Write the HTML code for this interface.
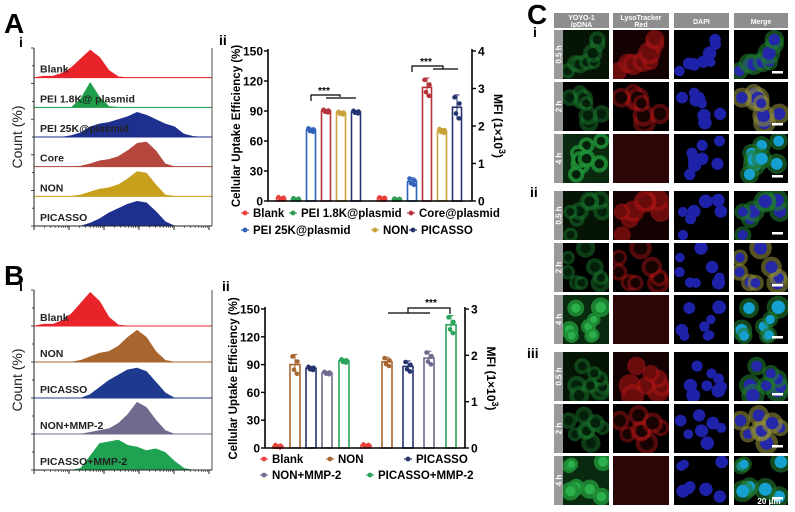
<!DOCTYPE html>
<html><head><meta charset="utf-8"><style>
html,body{margin:0;padding:0;background:#fff;}
svg{display:block;font-family:"Liberation Sans",Arial,sans-serif;}
</style></head><body>
<svg id="fig" width="795" height="512" viewBox="0 0 795 512">
<g font-weight="bold" fill="#000">
<text x="4" y="33" font-size="28">A</text>
<text x="4" y="285" font-size="28">B</text>
<text x="527" y="24" font-size="28">C</text>
<text x="19" y="47" font-size="14">i</text>
<text x="19" y="291" font-size="14">i</text>
<text x="219" y="45" font-size="14">ii</text>
<text x="222" y="291" font-size="14">ii</text>
</g>
<g id="hist"></g>
<g id="bars"></g>
<g id="micro"></g>
</svg>
<script>
const NS="http://www.w3.org/2000/svg";
function mk(tag,attrs,parent){const e=document.createElementNS(NS,tag);for(const k in attrs)e.setAttribute(k,attrs[k]);if(parent)parent.appendChild(e);return e;}

// ---------- Histogram data (fraction of row height per bin, 20 bins) ----------
const histA_names=["Blank","PEI 1.8K@ plasmid","PEI 25K@plasmid","Core","NON","PICASSO"];
const histA_colors=["#e8232a","#1f9e4a","#1e2f8e","#b5473f","#c9a01c","#1e2f8e"];
const histA_blank=[0,0.05,0.05,0.15,0.35,0.65,0.95,0.7,0.25,0.03,0,0,0,0,0,0,0,0,0,0];
const histA_pei18=[0,0,0,0,0,0.3,0.85,0.35,0.03,0,0,0,0,0,0,0,0,0,0,0];
const histA_pei25=[0,0,0,0,0.05,0.15,0.35,0.45,0.5,0.6,0.7,0.85,0.75,0.6,0.45,0.35,0.1,0.02,0,0];
const histA_core=[0,0,0,0,0,0.02,0.1,0.2,0.25,0.35,0.55,0.8,0.85,0.55,0.1,0,0,0,0,0];
const histA_non=[0,0,0,0,0,0.05,0.15,0.25,0.3,0.4,0.6,0.85,0.8,0.4,0.05,0,0,0,0,0];
const histA_pic=[0,0,0,0,0,0,0.1,0.25,0.45,0.6,0.75,0.85,0.8,0.5,0.15,0,0,0,0,0];
const histB_names=["Blank","NON","PICASSO","NON+MMP-2","PICASSO+MMP-2"];
const histB_colors=["#e8232a","#a8652e","#1e3a8e","#6f6a8e","#1fa352"];
const histB_blank=[0,0.05,0.05,0.15,0.35,0.65,0.95,0.7,0.25,0.03,0,0,0,0,0,0,0,0,0,0];
const histB_non=[0,0,0,0,0,0.05,0.15,0.25,0.3,0.45,0.7,0.9,0.7,0.3,0.05,0,0,0,0,0];
const histB_pic=[0,0,0,0,0,0,0.1,0.3,0.5,0.65,0.8,0.85,0.75,0.45,0.15,0,0,0,0,0];
const histB_nonmmp=[0,0,0,0,0,0,0.05,0.1,0.15,0.3,0.55,0.9,0.75,0.4,0.1,0,0,0,0,0];
const histB_picmmp=[0,0,0,0,0,0.05,0.4,0.75,0.8,0.85,0.7,0.65,0.55,0.6,0.5,0.25,0.05,0,0,0];

function drawHist(g,x0,x1,top,bottom,series,names,colors,tag){
  const n=series.length, rh=(bottom-top)/n, bw=(x1-x0)/19;
  const grp=mk("g",{},g);
  
  
  series.forEach((s,i)=>{
    const base=top+rh*(i+1);
    let pts=x0+","+base+" ";
    s.forEach((v,j)=>{pts+=(x0+j*bw)+","+(base-v*rh*0.98)+" ";});
    pts+=x1+","+base;
    const p=mk("polygon",{points:pts,fill:colors[i],stroke:colors[i],"stroke-width":0.6},grp);
    
    
    mk("line",{x1:x0,x2:x1,y1:base,y2:base,stroke:colors[i],"stroke-width":1},grp);
    const t=mk("text",{x:x0+6,y:base-5,"font-size":10.5,"font-weight":"bold",fill:"#222"},grp);
    t.textContent=names[i];
    
    
  });
  mk("line",{x1:x0,x2:x0,y1:top,y2:bottom,stroke:"#222","stroke-width":1},grp);
  mk("line",{x1:x0,x2:x1,y1:bottom,y2:bottom,stroke:"#222","stroke-width":1},grp);
  mk("line",{x1:x1,x2:x1,y1:top,y2:bottom,stroke:"#222","stroke-width":0.8},grp);
  for(let k=0;k<=10;k++){const y=top+(bottom-top)*k/10;mk("line",{x1:x0-(k%2?2:3),x2:x0,y1:y,y2:y,stroke:"#222","stroke-width":0.8},grp);}
  for(let d=0;d<=5;d++){const x=x0+d*35; if(x>x1+1)break; mk("line",{x1:x,x2:x,y1:bottom,y2:bottom+4,stroke:"#222","stroke-width":1},grp);
    for(let m=2;m<10;m++){const xm=x+35*Math.log10(m); if(xm<x1) mk("line",{x1:xm,x2:xm,y1:bottom,y2:bottom+2,stroke:"#222","stroke-width":0.6},grp);}}
  const c=mk("text",{x:0,y:0,"font-size":14,fill:"#222",transform:`translate(${x0-12},${(top+bottom)/2}) rotate(-90)`,"text-anchor":"middle"},grp);
  c.textContent="Count  (%)";
  
  
}
const H=document.getElementById("hist");
drawHist(H,34,212,48,226,[histA_blank,histA_pei18,histA_pei25,histA_core,histA_non,histA_pic],histA_names,histA_colors,"a");
drawHist(H,34,212,290,470,[histB_blank,histB_non,histB_pic,histB_nonmmp,histB_picmmp],histB_names,histB_colors,"b");

// ---------- Bar chart data ----------
const barA_groups=["Blank","PEI 1.8K@plasmid","PEI 25K@plasmid","Core@plasmid","NON","PICASSO"];
const barA_colors=["#e8413a","#2e9e52","#2f62b8","#b5323a","#c9a23a","#25336e"];
const barA_uptake=[3,2,71,90,88,89];
const barA_uptake_sd=[1,1,2,1.5,1.5,1.5];
const barA_mfi=[0.08,0.05,0.52,3.03,1.87,2.5];
const barA_mfi_sd=[0.02,0.02,0.1,0.25,0.06,0.33];
const barA_leftTicks=[0,30,60,90,120,150];
const barA_rightTicks=[0,1,2,3,4];

const barB_groups=["Blank","NON","PICASSO","NON+MMP-2","PICASSO+MMP-2"];
const barB_colors=["#e8413a","#a8652e","#25336e","#6f6a8e","#2aa35a"];
const barB_uptake=[2,90,86,81,94];
const barB_uptake_sd=[1.5,11,2,1.5,2];
const barB_mfi=[0.06,1.86,1.76,1.94,2.66];
const barB_mfi_sd=[0.02,0.1,0.12,0.15,0.2];
const barB_leftTicks=[0,30,60,90,120,150];
const barB_rightTicks=[0,1,2,3];

function drawBars(g,cfg){
  const {x0,x1,y0,y1,lmax,rmax,g1x,g2x,bw,up,upsd,mfi,mfisd,colors,names,ltick,rtick,tag}=cfg;
  const grp=mk("g",{},g);
  
  
  const yl=v=>y0-(v/lmax)*(y0-y1), yr=v=>y0-(v/rmax)*(y0-y1);
  function bar(cx,v,sd,ys,col,nm,grpName){
    const b=mk("rect",{x:cx-bw/2,y:ys(v),width:bw,height:y0-ys(v),fill:"#fff",stroke:col,"stroke-width":1.6},grp);
    
    
    mk("line",{x1:cx,x2:cx,y1:ys(v+sd),y2:ys(v-sd),stroke:col,"stroke-width":1},grp);
    mk("line",{x1:cx-2.5,x2:cx+2.5,y1:ys(v+sd),y2:ys(v+sd),stroke:col,"stroke-width":1},grp);
    [[-2.5,0.8],[2.5,0.3],[-1,-0.5],[2,-0.9]].forEach(o=>{
      mk("circle",{cx:cx+o[0],cy:ys(v+o[1]*sd),r:2.3,fill:col},grp);});
  }
  up.forEach((v,i)=>bar(g1x[i],v,upsd[i],yl,colors[i],names[i],"uptake"));
  mfi.forEach((v,i)=>bar(g2x[i],v,mfisd[i],yr,colors[i],names[i],"mfi"));
  mk("line",{x1:x0,x2:x0,y1:y0,y2:y1-2,stroke:"#000","stroke-width":1.6},grp);
  mk("line",{x1:x1,x2:x1,y1:y0,y2:y1-2,stroke:"#000","stroke-width":1.6},grp);
  mk("line",{x1:x0,x2:x1,y1:y0,y2:y0,stroke:"#000","stroke-width":1.6},grp);
  ltick.forEach(t=>{const y=yl(t);mk("line",{x1:x0-4,x2:x0,y1:y,y2:y,stroke:"#000","stroke-width":1.4},grp);
    const tx=mk("text",{x:x0-5,y:y+4.5,"font-size":12,"font-weight":"bold","text-anchor":"end"},grp);tx.textContent=t;
    });
  rtick.forEach(t=>{const y=yr(t);mk("line",{x1:x1,x2:x1+4,y1:y,y2:y,stroke:"#000","stroke-width":1.4},grp);
    const tx=mk("text",{x:x1+6,y:y+4.5,"font-size":12,"font-weight":"bold"},grp);tx.textContent=t;
    });
  const lt=mk("text",{"font-size":11.5,"font-weight":"bold","text-anchor":"middle",transform:`translate(${x0-28},${(y0+y1)/2}) rotate(-90)`},grp);
  lt.textContent="Cellular Uptake Efficiency (%)";
  
  const rt=mk("text",{"font-size":12,"font-weight":"bold","text-anchor":"middle",transform:`translate(${x1+22},${(y0+y1)/2}) rotate(90)`},grp);
  rt.innerHTML='MFI (1×10<tspan font-size="9" dy="-5">3</tspan><tspan dy="5">)</tspan>';
  
  return grp;
}
const B=document.getElementById("bars");
const gA=drawBars(B,{x0:268,x1:472,y0:201,y1:51,lmax:150,rmax:4,g1x:[281,296,311,326,341,356],g2x:[382,397,412,427,442,457],bw:9,
 up:barA_uptake,upsd:barA_uptake_sd,mfi:barA_mfi,mfisd:barA_mfi_sd,colors:barA_colors,names:barA_groups,ltick:barA_leftTicks,rtick:barA_rightTicks,tag:"a"});
const gB=drawBars(B,{x0:265,x1:465,y0:448,y1:309,lmax:150,rmax:3,g1x:[278,295,311,327,344],g2x:[366,387,408,429,451],bw:10,
 up:barB_uptake,upsd:barB_uptake_sd,mfi:barB_mfi,mfisd:barB_mfi_sd,colors:barB_colors,names:barB_groups,ltick:barB_leftTicks,rtick:barB_rightTicks,tag:"b"});

function pl(g,pts){mk("polyline",{points:pts,fill:"none",stroke:"#000","stroke-width":1.2},g);}
function stars(g,x,y){const t=mk("text",{x:x,y:y,"font-size":10,"font-weight":"bold","text-anchor":"middle"},g);t.textContent="***";
 }
pl(gA,"311,101 311,95 340,95 340,97");pl(gA,"326,98 356,98");stars(gA,324,94);
pl(gA,"412,72 412,66 443,66 443,69");pl(gA,"433,69 458,69");stars(gA,426,65);
pl(gB,"388,313 430,313");pl(gB,"408,313 408,308 450,308 450,314");stars(gB,431,306);

function legend(g,items,colors,tag){
  items.forEach((it,i)=>{
    const lg=mk("g",{},g);
    
    
    mk("line",{x1:it[1]-4,x2:it[1]+4,y1:it[2],y2:it[2],stroke:colors[i],"stroke-width":1.2},lg);
    mk("circle",{cx:it[1],cy:it[2],r:2.4,fill:colors[i]},lg);
    const t=mk("text",{x:it[1]+8,y:it[2]+4,"font-size":11.5,"font-weight":"bold"},lg);t.textContent=it[0];
  });
}
legend(gA,[["Blank",245,213],["PEI 1.8K@plasmid",293,213],["PEI 25K@plasmid",245,230],["Core@plasmid",411,213],["NON",375,230],["PICASSO",413,230]],barA_colors,"a");
legend(gB,[["Blank",264,459],["NON",330,459],["PICASSO",408,459],["NON+MMP-2",264,475],["PICASSO+MMP-2",370,475]],barB_colors,"b");

// ---------- Microscopy panel C ----------
const M=document.getElementById("micro");
const colX=[563,613,674,734], colW=[46,56,55,54];
const headers=[["YOYO-1","/pDNA"],["LysoTracker","Red"],["DAPI"],["Merge"]];
const hx=[554,613,674,734], hw=[55,56,55,54];
headers.forEach((h,i)=>{
  const hg=mk("g",{},M);
  
  
  mk("rect",{x:hx[i],y:13,width:hw[i],height:15,fill:"#8e8e8e"},hg);
  if(h.length==2){const t=mk("text",{x:hx[i]+hw[i]/2,y:20,"font-size":7,"font-weight":"bold",fill:"#fff","text-anchor":"middle"},hg);t.textContent=h[0];
    const t2=mk("text",{x:hx[i]+hw[i]/2,y:27,"font-size":7,"font-weight":"bold",fill:"#fff","text-anchor":"middle"},hg);t2.textContent=h[1];}
  else{const t=mk("text",{x:hx[i]+hw[i]/2,y:24,"font-size":7,"font-weight":"bold",fill:"#fff","text-anchor":"middle"},hg);t.textContent=h[0];}
});
const rowY=[30,82,134,191,243,295,352,404,456], rowH=49;
const rowLab=["0.5 h","2 h","4 h","0.5 h","2 h","4 h","0.5 h","2 h","4 h"];
[["i",37],["ii",197],["iii",358]].forEach(r=>{const t=mk("text",{x:r[0]=="i"?533:r[0]=="ii"?530:527,y:r[1],"font-size":14,"font-weight":"bold"},M);t.textContent=r[0];
 });
let seed=7;function rnd(){seed=(seed*16807)%2147483647;return seed/2147483647;}
const defs=mk("defs",{},M);
rowY.forEach((y,ri)=>{
  const lab=mk("rect",{x:554,y:y,width:9,height:rowH,fill:"#9a9a9a"},M);
  
  const lt=mk("text",{"font-size":8,"font-weight":"bold",fill:"#fff","text-anchor":"middle",transform:`translate(561.5,${y+rowH/2}) rotate(-90)`},M);
  lt.textContent=rowLab[ri];
  const t=ri%3; const late=(t==2), g2=(ri>=3);
  const cells=[];for(let k=0;k<8;k++)cells.push([0.1+rnd()*0.8,0.1+rnd()*0.8,0.12+rnd()*0.06]);
  colX.forEach((x,ci)=>{
    const cid="clip"+ri+"_"+ci;
    const cp=mk("clipPath",{id:cid},defs);mk("rect",{x:x,y:y,width:colW[ci],height:rowH},cp);
    const cg=mk("g",{"clip-path":`url(#${cid})`},M);
    
    
    const w=colW[ci];
    let bg="#000"; if(ci==1&&late) bg="#2a0606"; if(ci==0&&late) bg="#0a2a10"; if(ci==0&&t==0) bg="#051405";if(ci==1&&t==0)bg="#140202";
    mk("rect",{x:x,y:y,width:w,height:rowH,fill:bg},cg);
    cells.forEach(c=>{
      const cx=x+c[0]*w, cy=y+c[1]*rowH, r=c[2]*w;
      if(ci==0){ mk("circle",{cx,cy,r:r*1.2,fill:late?"#1f8f36":"#17702a",opacity:late?0.85:0.55},cg);
        mk("circle",{cx,cy,r:r*0.65,fill:late&&g2?"#2cb04c":"#04200a"},cg);}
      if(ci==1){ if(!late){mk("circle",{cx,cy,r:r*1.15,fill:"#a81414",opacity:t==0?0.6:0.5},cg);mk("circle",{cx,cy,r:r*0.7,fill:t==0?"#6a0c0c":"#180303"},cg);} }
      if(ci==2){ mk("circle",{cx,cy,r:r*0.7,fill:"#1e22a8"},cg);}
      if(ci==3){ mk("circle",{cx,cy,r:r*1.2,fill:t==1?"#8e8a3a":"#1f7a30",opacity:0.6},cg);
        mk("circle",{cx,cy,r:r*0.7,fill:late?"#15a0d0":"#2428a8"},cg);}
    });
    if(ci==3){mk("rect",{x:x+w-16,y:y+rowH-8,width:11,height:2.5,fill:"#fff"},cg);}
  });
});
const sb=mk("text",{x:769,y:504,"font-size":8,"font-weight":"bold",fill:"#fff","text-anchor":"middle"},M);
sb.textContent="20 μm";
</script>
</body></html>
